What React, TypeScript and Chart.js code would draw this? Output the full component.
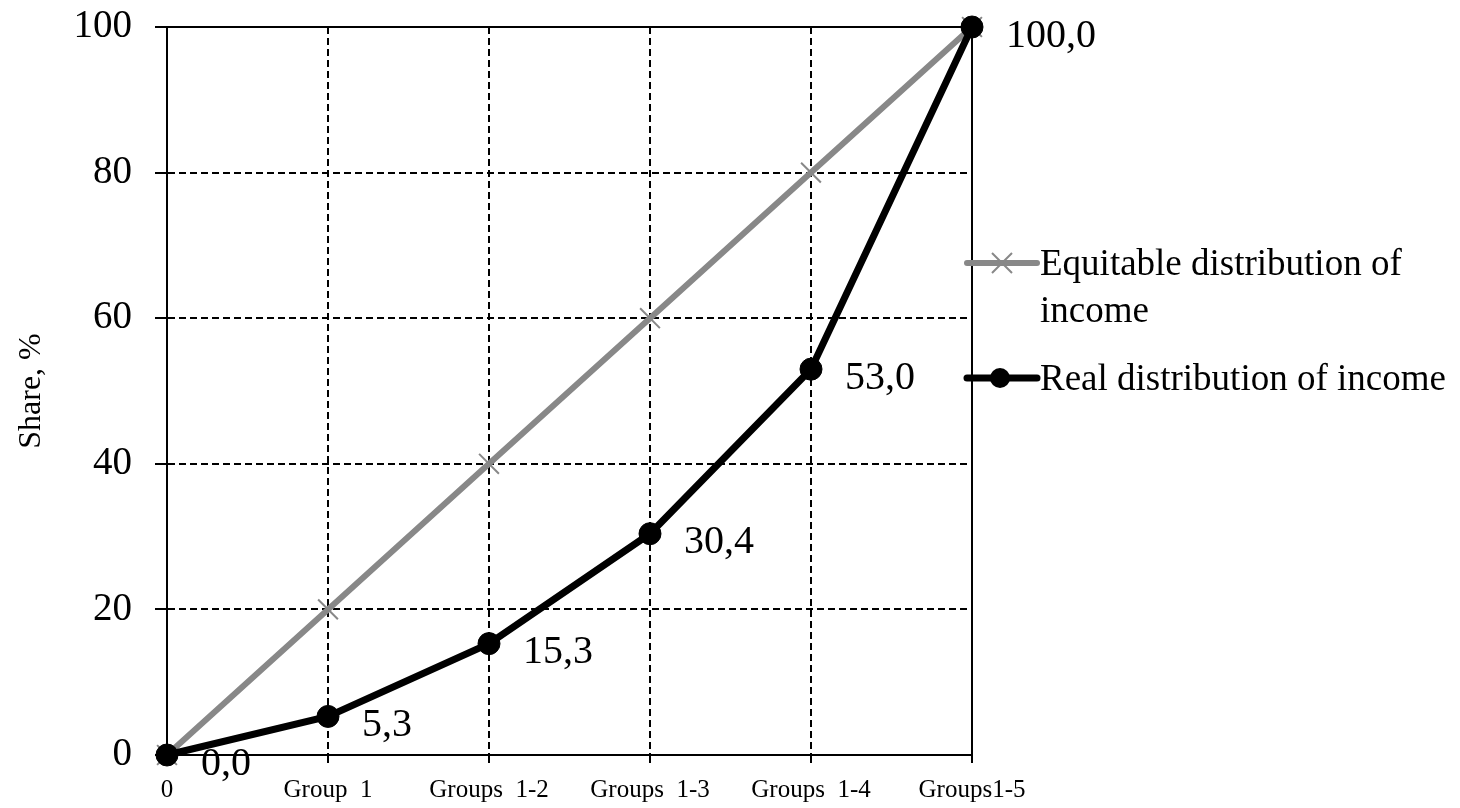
import React, { useEffect, useRef } from "react";
import { Chart, registerables } from "chart.js";

Chart.register(...registerables);

const categories = ["0", "Group  1", "Groups  1-2", "Groups  1-3", "Groups  1-4", "Groups1-5"];
const equitableValues = [0, 20, 40, 60, 80, 100];
const realValues = [0, 5.3, 15.3, 30.4, 53.0, 100.0];
const realLabels = ["0,0", "5,3", "15,3", "30,4", "53,0", "100,0"];
const legendEquitable = ["Equitable distribution of", "income"];
const legendReal = "Real distribution of income";
const yTitle = "Share, %";

const SERIF = "'Liberation Serif', 'Times New Roman', serif";
const GREY = "#888888";

const boxPlugin = {
  id: "plotBox",
  beforeDatasetsDraw(chart: any) {
    const { ctx, chartArea } = chart;
    ctx.save();
    ctx.strokeStyle = "#000";
    ctx.lineWidth = 2;
    ctx.setLineDash([]);
    ctx.strokeRect(chartArea.left, chartArea.top, chartArea.right - chartArea.left, chartArea.bottom - chartArea.top);
    ctx.restore();
  },
};

const labelPlugin = {
  id: "valueLabels",
  afterDatasetsDraw(chart: any) {
    const { ctx } = chart;
    const meta = chart.getDatasetMeta(0);
    ctx.save();
    ctx.font = `40px ${SERIF}`;
    ctx.fillStyle = "#000";
    ctx.textAlign = "left";
    ctx.textBaseline = "middle";
    meta.data.forEach((pt: any, i: number) => {
      ctx.fillText(realLabels[i], pt.x + 34, pt.y + 9);
    });
    ctx.restore();
  },
};

const legendPlugin = {
  id: "customLegend",
  afterDraw(chart: any) {
    const { ctx, chartArea } = chart;
    const x0 = chartArea.right - 5;
    const x1 = chartArea.right + 65;
    const tx = chartArea.right + 68;
    const y1 = 263;
    const y2 = 378;
    ctx.save();
    // equitable
    ctx.strokeStyle = GREY;
    ctx.lineWidth = 6;
    ctx.lineCap = "round";
    ctx.beginPath();
    ctx.moveTo(x0, y1);
    ctx.lineTo(x1, y1);
    ctx.stroke();
    ctx.lineWidth = 2;
    ctx.lineCap = "butt";
    const cx = x0 + 35;
    const r = 10;
    ctx.beginPath();
    ctx.moveTo(cx - r, y1 - r);
    ctx.lineTo(cx + r, y1 + r);
    ctx.moveTo(cx - r, y1 + r);
    ctx.lineTo(cx + r, y1 - r);
    ctx.stroke();
    // real
    ctx.strokeStyle = "#000";
    ctx.lineWidth = 7;
    ctx.lineCap = "round";
    ctx.beginPath();
    ctx.moveTo(x0, y2);
    ctx.lineTo(x1, y2);
    ctx.stroke();
    ctx.fillStyle = "#000";
    ctx.beginPath();
    ctx.arc(x0 + 33, y2, 10, 0, Math.PI * 2);
    ctx.fill();
    // text
    ctx.font = `37px ${SERIF}`;
    ctx.textAlign = "left";
    ctx.textBaseline = "middle";
    ctx.fillText(legendEquitable[0], tx, y1 + 2);
    ctx.fillText(legendEquitable[1], tx, y1 + 49);
    ctx.fillText(legendReal, tx, y2 + 2);
    ctx.restore();
  },
};

export default function App() {
  const ref = useRef<HTMLCanvasElement>(null);

  useEffect(() => {
    if (!ref.current) return;
    const chart = new Chart(ref.current, {
      type: "line",
      data: {
        labels: categories,
        datasets: [
          {
            label: "Real distribution of income",
            data: realValues,
            borderColor: "#000",
            backgroundColor: "#000",
            borderWidth: 7,
            pointStyle: "circle",
            pointRadius: 11,
            pointBackgroundColor: "#000",
            pointBorderColor: "#000",
            pointBorderWidth: 1,
            tension: 0,
            clip: false as any,
            order: 0,
          },
          {
            label: "Equitable distribution of income",
            data: equitableValues,
            borderColor: GREY,
            backgroundColor: GREY,
            borderWidth: 6,
            pointStyle: "crossRot",
            pointRadius: 14,
            pointBorderColor: GREY,
            pointBorderWidth: 2,
            tension: 0,
            clip: false as any,
            order: 1,
          },
        ],
      },
      options: {
        animation: false,
        responsive: false,
        maintainAspectRatio: false,
        layout: { padding: { left: 0, top: 27, right: 488, bottom: 0 } },
        plugins: {
          legend: { display: false },
          tooltip: { enabled: false },
        },
        scales: {
          x: {
            type: "category",
            offset: false,
            grid: {
              display: true,
              color: "#000",
              lineWidth: 2,
              tickLength: 8,
              tickColor: "#000",
              tickWidth: 2,
              tickBorderDash: [],
            },
            border: { display: true, color: "#000", width: 2, dash: [7, 4] },
            ticks: {
              color: "#000",
              font: { family: SERIF, size: 25 },
              padding: 12,
              maxRotation: 0,
              autoSkip: false,
            },
            afterFit: (scale: any) => {
              scale.height = 53;
            },
          },
          y: {
            min: 0,
            max: 100,
            grid: {
              color: "#000",
              lineWidth: 2,
              tickLength: 12,
              tickColor: "#000",
              tickWidth: 2,
              tickBorderDash: [],
            },
            border: { display: true, color: "#000", width: 2, dash: [7, 4] },
            ticks: {
              stepSize: 20,
              color: "#000",
              font: { family: SERIF, size: 39 },
              padding: 23,
            },
            title: {
              display: true,
              text: yTitle,
              color: "#000",
              font: { family: SERIF, size: 32 },
              padding: { top: 12, bottom: 0 },
            },
            afterFit: (scale: any) => {
              scale.width = 167;
              scale.paddingTop = 0;
              scale.paddingBottom = 0;
            },
          },
        },
      },
      plugins: [boxPlugin, labelPlugin, legendPlugin],
    });
    return () => chart.destroy();
  }, []);

  return (
    <div style={{ position: "fixed", left: 0, top: 0, width: 1460, height: 808, background: "#fff" }}>
      <canvas ref={ref} width={1460} height={808} style={{ width: 1460, height: 808, display: "block" }} />
    </div>
  );
}
